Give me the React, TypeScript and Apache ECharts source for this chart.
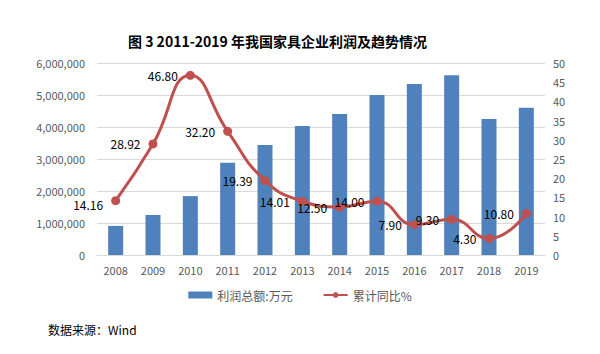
import React, { useEffect, useRef } from "react";
import * as echarts from "echarts";

const years = ["2008","2009","2010","2011","2012","2013","2014","2015","2016","2017","2018","2019"];
const profit = [910000, 1250000, 1840000, 2880000, 3440000, 4030000, 4410000, 5000000, 5340000, 5620000, 4250000, 4600000];
const growth = [14.16, 28.92, 46.80, 32.20, 19.39, 14.01, 12.50, 14.00, 7.90, 9.30, 4.30, 10.80];
const titleText = "图 3 2011-2019 年我国家具企业利润及趋势情况";
const sourceText = "数据来源：Wind";
const barName = "利润总额:万元";
const lineName = "累计同比%";

const font = "'Noto Sans CJK SC', 'Noto Sans', sans-serif";

export default function App() {
  const ref = useRef<HTMLDivElement>(null);
  useEffect(() => {
    const chart = echarts.init(ref.current!, null, { renderer: "svg" });
    chart.setOption({
      animation: false,
      textStyle: { fontFamily: font },
      title: {
        text: titleText,
        left: 123,
        top: 29,
        textStyle: { fontSize: 14, fontWeight: "bold", color: "#000", fontFamily: font },
      },
      grid: { left: 97, right: 55, top: 63, bottom: 99 },
      legend: {
        bottom: 48,
        left: "center",
        itemWidth: 24,
        itemHeight: 7,
        itemGap: 30,
        textStyle: { fontSize: 12, color: "#595959" },
        data: [
          { name: barName, icon: "rect" },
          { name: lineName },
        ],
      },
      graphic: [
        {
          type: "text",
          left: 48,
          top: 323,
          style: { text: sourceText, fontSize: 12, fill: "#000", fontFamily: font },
        },
      ],
      xAxis: {
        type: "category",
        data: years,
        axisLine: { lineStyle: { color: "#D9D9D9" } },
        axisTick: { show: false },
        axisLabel: { color: "#595959", fontSize: 11, margin: 9 },
      },
      yAxis: [
        {
          type: "value",
          min: 0,
          max: 6000000,
          interval: 1000000,
          axisLabel: {
            color: "#595959",
            fontSize: 11,
            margin: 12,
            formatter: (v: number) => v.toLocaleString("en-US"),
          },
          splitLine: { lineStyle: { color: "#D9D9D9" } },
          axisLine: { show: false },
          axisTick: { show: false },
        },
        {
          type: "value",
          min: 0,
          max: 50,
          interval: 5,
          axisLabel: { color: "#595959", fontSize: 11, margin: 8 },
          splitLine: { show: false },
          axisLine: { show: false },
          axisTick: { show: false },
        },
      ],
      series: [
        {
          name: barName,
          type: "bar",
          data: profit,
          barWidth: 15,
          itemStyle: { color: "#4F81BD" },
        },
        {
          name: lineName,
          type: "line",
          yAxisIndex: 1,
          data: growth.map((v, i) =>
            i === 0 ? { value: v, label: { offset: [0, 4] } } : v
          ),
          smooth: 0.5,
          symbol: "circle",
          symbolSize: 9,
          lineStyle: { color: "#C0504D", width: 3 },
          itemStyle: { color: "#C0504D" },
          label: {
            show: true,
            position: "left",
            distance: 8,
            color: "#000",
            fontSize: 12,
            formatter: (p: any) => Number(p.value).toFixed(2),
          },
        },
      ],
    });
    return () => chart.dispose();
  }, []);
  return <div ref={ref} style={{ width: 600, height: 354, margin: -8 }} />;
}
